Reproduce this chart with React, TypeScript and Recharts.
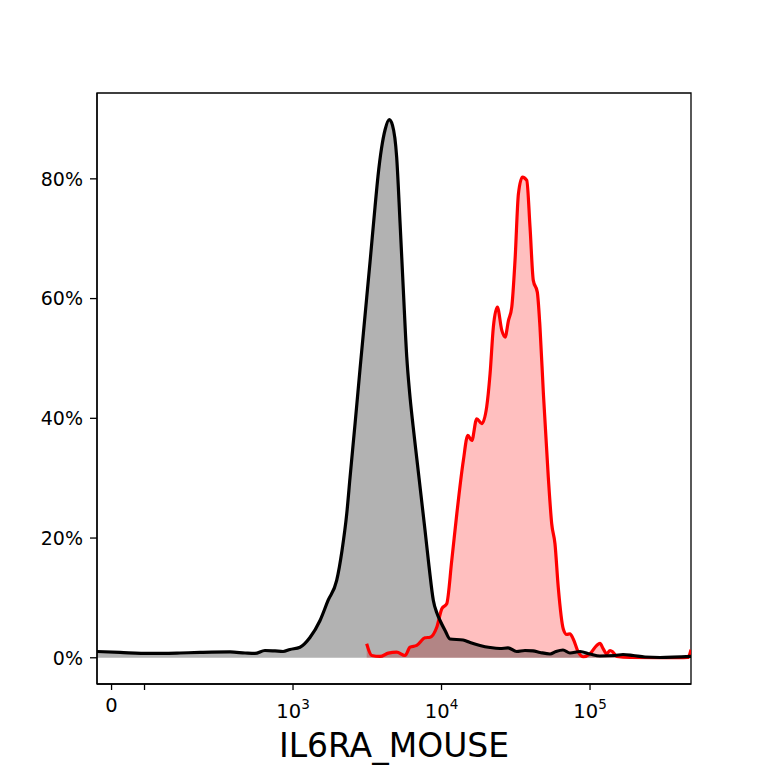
import React from 'react';
import { ComposedChart, Area, Line, XAxis, YAxis, ReferenceArea } from 'recharts';

// x positions are in logicle display units (decades: 3 = 10^3, 4 = 10^4 ...), y in % of max
const blackPos = [1.680, 1.835, 2.037, 2.239, 2.374, 2.576, 2.677, 2.744, 2.811, 2.879, 2.933, 2.980, 3.047, 3.114, 3.182, 3.236, 3.294, 3.330, 3.362, 3.384, 3.418, 3.451, 3.485, 3.519, 3.552, 3.572, 3.596, 3.620, 3.648, 3.670, 3.698, 3.721, 3.743, 3.766, 3.785, 3.808, 3.835, 3.862, 3.889, 3.916, 3.945, 3.970, 3.990, 4.024, 4.057, 4.145, 4.192, 4.259, 4.327, 4.394, 4.448, 4.506, 4.562, 4.616, 4.663, 4.731, 4.771, 4.818, 4.865, 4.933, 5.000, 5.067, 5.168, 5.222, 5.290, 5.370, 5.471, 5.680];
const blackPct = [1.05, 0.89, 0.72, 0.80, 0.89, 0.97, 0.80, 0.72, 1.22, 1.14, 1.05, 1.39, 1.77, 3.39, 6.23, 9.57, 12.92, 17.93, 24.11, 30.12, 39.15, 48.17, 57.19, 66.21, 75.24, 80.40, 85.10, 88.20, 89.89, 88.94, 83.64, 72.56, 61.37, 50.22, 44.33, 38.81, 32.96, 27.12, 21.27, 15.25, 9.57, 7.40, 6.23, 4.56, 3.14, 2.97, 2.56, 2.06, 1.72, 1.55, 1.64, 1.05, 1.22, 1.14, 0.89, 0.63, 1.05, 1.30, 0.80, 1.05, 0.63, 0.30, 0.38, 0.55, 0.38, 0.13, 0.05, 0.22];

const redPos = [3.496, 3.530, 3.586, 3.642, 3.698, 3.754, 3.788, 3.833, 3.889, 3.923, 3.968, 4.002, 4.035, 4.069, 4.103, 4.147, 4.177, 4.204, 4.237, 4.271, 4.304, 4.327, 4.349, 4.376, 4.406, 4.428, 4.451, 4.473, 4.495, 4.518, 4.545, 4.574, 4.596, 4.618, 4.645, 4.663, 4.686, 4.719, 4.742, 4.764, 4.786, 4.820, 4.843, 4.865, 4.887, 4.921, 4.955, 5.000, 5.045, 5.067, 5.089, 5.112, 5.135, 5.155, 5.180, 5.269, 5.471, 5.660, 5.680];
const redPct = [2.34, 0.38, 0.22, 0.77, 0.94, 0.38, 1.77, 2.06, 3.34, 3.44, 5.11, 8.19, 9.02, 16.26, 24.06, 32.96, 37.14, 36.30, 39.93, 39.10, 41.87, 47.45, 55.24, 58.58, 54.69, 53.57, 56.36, 58.58, 66.38, 77.53, 80.30, 79.75, 71.94, 63.04, 61.08, 55.24, 44.11, 30.17, 22.39, 19.05, 11.80, 4.81, 3.89, 4.01, 3.14, 0.97, 0.17, 0.67, 2.06, 2.39, 1.50, 0.67, 1.22, 0.94, 0.22, 0.05, 0.02, 0.05, 1.34];

const xTickPos = [1.778, 2, 3, 4, 5];
const xTickBase = ['0', '', '10', '10', '10'];
const xTickExp = ['', '', '3', '4', '5'];
const yTicks = [0, 20, 40, 60, 80];
const xLabel = 'IL6RA_MOUSE';

const xDomain = [1.68, 5.68];
const yDomain = [-4.38, 94.34];

const FONT = '"DejaVu Sans", sans-serif';

const rows: any[] = [
  ...blackPos.map((u, i) => ({ u, black: blackPct[i] })),
  ...redPos.map((u, i) => ({ u, red: redPct[i] })),
].sort((a, b) => a.u - b.u);

const XTick = (props: any) => {
  const { x, y, payload } = props;
  const i = xTickPos.indexOf(payload.value);
  const base = i >= 0 ? xTickBase[i] : '';
  const exp = i >= 0 ? xTickExp[i] : '';
  if (!base) return <g />;
  if (!exp) {
    return (
      <text x={x} y={y + 22} textAnchor="middle" fontSize={19.5} fontFamily={FONT} fill="#000">
        {base}
      </text>
    );
  }
  return (
    <text x={x} y={y + 28.3} textAnchor="middle" fontSize={19.5} fontFamily={FONT} fill="#000">
      <tspan>{base}</tspan>
      <tspan dy={-9.3} fontSize={13.5}>{exp}</tspan>
    </text>
  );
};

export default function App() {
  return (
    <div style={{ position: 'absolute', left: 0, top: 0, width: 768, height: 768, background: '#fff' }}>
      <ComposedChart
        width={768}
        height={768}
        data={rows}
        margin={{ top: 93, right: 77, bottom: 0, left: 0 }}
      >
        <XAxis
          dataKey="u"
          type="number"
          domain={xDomain}
          allowDataOverflow
          ticks={xTickPos}
          interval={0}
          height={84}
          tickSize={6}
          tickMargin={0}
          tick={<XTick />}
          axisLine={{ stroke: '#000', strokeWidth: 1.3 }}
          tickLine={{ stroke: '#000', strokeWidth: 1.3 }}
          label={{ value: xLabel, position: 'insideBottom', offset: 11, fontSize: 33, fill: '#000', fontFamily: FONT }}
        />
        <YAxis
          type="number"
          domain={yDomain}
          allowDataOverflow
          ticks={yTicks}
          interval={0}
          width={97}
          tickSize={7}
          tickMargin={7}
          tickFormatter={(v: number) => `${v}%`}
          tick={{ fontSize: 19, fill: '#000', fontFamily: FONT }}
          axisLine={{ stroke: '#000', strokeWidth: 1.3 }}
          tickLine={{ stroke: '#000', strokeWidth: 1.3 }}
        />
        <Area
          dataKey="red"
          type="monotone"
          connectNulls
          baseValue={0}
          fill="#ff0000"
          fillOpacity={0.25}
          stroke="none"
          isAnimationActive={false}
          activeDot={false}
        />
        <Area
          dataKey="black"
          type="monotone"
          connectNulls
          baseValue={0}
          fill="#000000"
          fillOpacity={0.3}
          stroke="none"
          isAnimationActive={false}
          activeDot={false}
        />
        <Line
          dataKey="red"
          type="monotone"
          connectNulls
          stroke="#ff0000"
          strokeWidth={3.2}
          strokeLinejoin="round"
          dot={false}
          activeDot={false}
          isAnimationActive={false}
        />
        <Line
          dataKey="black"
          type="monotone"
          connectNulls
          stroke="#000000"
          strokeWidth={3.2}
          strokeLinejoin="round"
          dot={false}
          activeDot={false}
          isAnimationActive={false}
        />
        <ReferenceArea
          x1={xDomain[0]}
          x2={xDomain[1]}
          y1={yDomain[0]}
          y2={yDomain[1]}
          ifOverflow="visible"
          fill="none"
          fillOpacity={0}
          stroke="#000"
          strokeWidth={1.3}
          strokeOpacity={1}
        />
      </ComposedChart>
    </div>
  );
}
